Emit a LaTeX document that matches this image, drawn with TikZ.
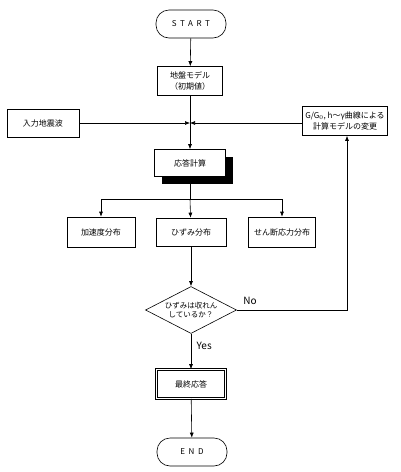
\documentclass[tikz,border=0pt]{standalone}
\usepackage{fontspec}
\newfontfamily\jp{Noto Sans CJK JP}
\usetikzlibrary{
arrows.meta,
shapes.geometric,
shadows,
positioning
}
\tikzset{
  box/.style={draw, line width=.6pt, minimum width=70pt, minimum height=28pt, inner sep=1pt, align=center, font=\jp\fontsize{8}{10.5}\selectfont},
  term/.style={box, rounded corners=13pt, font=\jp\fontsize{8}{10}\selectfont\addfontfeature{LetterSpace=45}},
  shadowbox/.style={box, fill=white, drop shadow={opacity=1, fill=black, shadow xshift=7pt, shadow yshift=-7pt}},
  finalbox/.style={box, double, double distance=1.6pt},
  check/.style={draw, line width=.6pt, diamond, aspect=2, inner sep=0pt, minimum width=91pt, minimum height=47pt, align=center, font=\jp\fontsize{7.5}{9.5}\selectfont},
  flow/.style={line width=.6pt, -{Latex[length=5pt,width=4pt]}},
  tag/.style={font=\jp\fontsize{10}{12}\selectfont}
}
\begin{document}
\begin{tikzpicture}[x=1pt, y=-1pt]
\useasboundingbox (0,0) rectangle (400,472);

% Knoten
\node[term] (start) at (191,24) {START};
\node[box, minimum width=65pt, minimum height=29pt] (model) at (190,81) {地盤モデル\\（初期値）};
\coordinate (join) at (190,123);
\node[box, minimum width=72pt] (input) at (43,123) {入力地震波};
\node[box, minimum width=85pt, minimum height=29pt] (update) at (345,121) {G/G$_0$, h～γ曲線による\\計算モデルの変更};
\node[shadowbox, minimum width=71pt, minimum height=27pt] (calc) at (190,163) {応答計算};
\coordinate (branch) at (190,199);
\node[box, minimum width=68pt, minimum height=30pt] (acc) at (101,232) {加速度分布};
\node[box] (strain) at (191,232) {ひずみ分布};
\node[box, minimum width=67pt, minimum height=30pt] (shear) at (282,232) {せん断応力分布};
\node[check] (conv) at (191,310) {ひずみは収れん\\しているか？};
\node[finalbox, minimum width=69pt, minimum height=29pt] (final) at (191,384) {最終応答};
\node[term] (end) at (192,452) {END};

% Verbindungen
\draw[flow] (start) -- (model);
\draw[line width=.6pt] (model) -- (join);
\draw[flow] (input) -- (join);
\draw[flow] (update.west |- join) -- (join);
\draw[flow] (join) -- (calc);
\draw[line width=.6pt] (calc) -- (branch);
\draw[flow] (branch) -| (acc.north);
\draw[flow] (branch) -| (shear.north);
\draw[flow] (branch) -- (strain);
\draw[flow] (strain) -- (conv);
\draw[flow] (conv.east) -- node[tag, above, pos=.12, yshift=2pt] {No} (347,310) -- (update.south -| 347,0);
\draw[flow] (conv) -- node[tag, right, pos=.35, xshift=2pt] {Yes} (final);
\draw[flow] (final) -- (end);
\end{tikzpicture}
\end{document}
